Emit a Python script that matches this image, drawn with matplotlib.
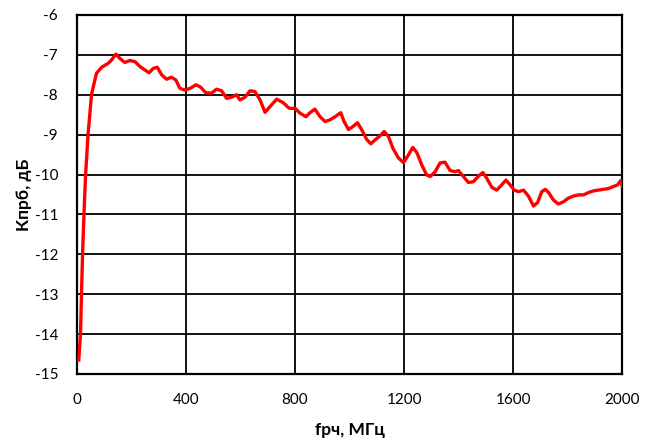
import matplotlib
matplotlib.use("Agg")
import matplotlib.pyplot as plt

plt.rcParams['font.family'] = ['Lato', 'DejaVu Sans']

freq = [7, 13.5, 17, 21, 26, 32, 41, 54, 72, 91, 115, 127, 143, 158, 176, 194, 213, 231, 250, 265,
        280, 295, 311, 329, 347, 363, 378, 396, 415, 437, 454, 473, 494, 512, 531, 549, 568, 586,
        598, 617, 635, 653, 672, 690, 708, 733, 757, 779, 800, 818, 840, 855, 873, 892, 910, 928,
        947, 968, 980, 996, 1012, 1029, 1045, 1063, 1078, 1094, 1112, 1127, 1143, 1159, 1180, 1198,
        1216, 1232, 1247, 1265, 1283, 1296, 1314, 1332, 1350, 1369, 1387, 1399, 1418, 1436, 1454,
        1473, 1489, 1503, 1522, 1540, 1558, 1574, 1589, 1604, 1620, 1638, 1656, 1675, 1690, 1705,
        1718, 1730, 1748, 1766, 1785, 1803, 1821, 1840, 1858, 1877, 1895, 1913, 1932, 1950, 1968,
        1983, 1995, 2000]
kprb = [-14.65, -13.97, -12.97, -11.97, -11.0, -10.0, -9.0, -7.98, -7.46, -7.31, -7.21, -7.13, -6.98,
        -7.09, -7.19, -7.14, -7.17, -7.29, -7.38, -7.45, -7.34, -7.31, -7.5, -7.61, -7.56, -7.63,
        -7.84, -7.88, -7.84, -7.75, -7.81, -7.95, -7.96, -7.86, -7.9, -8.09, -8.06, -8.0, -8.13,
        -8.06, -7.9, -7.92, -8.13, -8.44, -8.3, -8.11, -8.2, -8.34, -8.34, -8.46, -8.55, -8.45,
        -8.36, -8.55, -8.67, -8.63, -8.55, -8.45, -8.67, -8.87, -8.8, -8.7, -8.88, -9.12, -9.23,
        -9.13, -9.03, -8.92, -9.05, -9.34, -9.59, -9.7, -9.51, -9.32, -9.45, -9.76, -10.01, -10.05,
        -9.93, -9.71, -9.69, -9.9, -9.93, -9.9, -10.05, -10.2, -10.18, -10.04, -9.95, -10.09, -10.32,
        -10.39, -10.26, -10.14, -10.26, -10.39, -10.43, -10.39, -10.54, -10.79, -10.7, -10.43,
        -10.37, -10.45, -10.64, -10.74, -10.68, -10.59, -10.54, -10.51, -10.51, -10.45, -10.41,
        -10.39, -10.37, -10.35, -10.3, -10.26, -10.15, -10.3]

xticks = [0, 400, 800, 1200, 1600, 2000]
yticks = [-15, -14, -13, -12, -11, -10, -9, -8, -7, -6]

fig = plt.figure(figsize=(6.57, 4.41), dpi=100)
ax = fig.add_axes([0.117, 0.152, 0.830, 0.814])
ax.plot(freq, kprb, color='#ff0000', linewidth=2.4, zorder=3, solid_joinstyle='round')
ax.set_xlim(0, 2000)
ax.set_ylim(-15, -6)
ax.set_xticks(xticks)
ax.set_yticks(yticks)
ax.set_xticklabels([str(t) for t in xticks])
ax.set_yticklabels([str(t) for t in yticks])
ax.grid(True, color='black', linewidth=1.3)
ax.set_axisbelow(True)
for s in ax.spines.values():
    s.set_color('black')
    s.set_linewidth(1.6)
ax.tick_params(axis='x', length=0, labelsize=11, pad=13.5, colors='black')
ax.tick_params(axis='y', length=0, labelsize=11, pad=13.5, colors='black')
ax.set_xlabel('fрч, МГц', fontsize=12.5, fontweight='bold', labelpad=11)
ax.set_ylabel('Кпрб, дБ', fontsize=12.5, fontweight='bold', labelpad=2)
fig.savefig('out.png', dpi=100, facecolor='white')
